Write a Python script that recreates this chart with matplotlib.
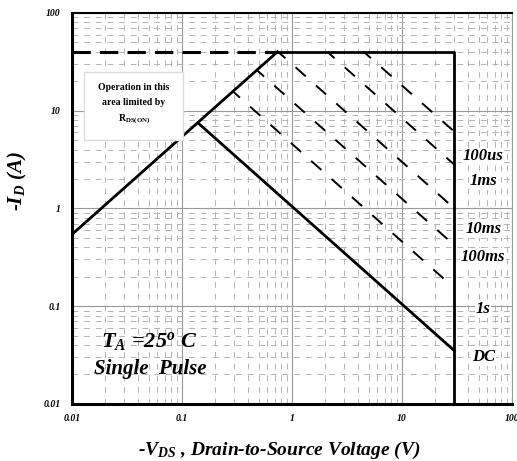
import matplotlib.pyplot as plt

# boundary of the safe operating area
rds_v = [0.01, 0.74]
rds_i = [0.54, 40]
limit_v = [0.01, 0.74]
limit_i = [40, 40]
edge_v = [0.74, 30, 30]
edge_i = [40, 40, 0.01]
dc_v = [0.14, 30]
dc_i = [7.5, 0.035]

# pulse lines (start and end points)
pulse_names = ["100us", "1ms", "10ms", "100ms", "1s"]
pulse_v0 = [4.5, 2.1, 0.75, 0.48, 0.29]
pulse_i0 = [40, 40, 40, 26, 15.8]
pulse_v1 = [30, 30, 30, 30, 30]
pulse_i1 = [6.1, 2.8, 1.0, 0.42, 0.153]

# curve labels on the right
label_names = ["100us", "1ms", "10ms", "100ms", "1s", "DC"]
label_i = [3.4, 1.9, 0.61, 0.32, 0.093, 0.030]

plt.rcParams['font.family'] = 'Liberation Serif'
plt.rcParams['mathtext.fontset'] = 'custom'
plt.rcParams['mathtext.it'] = 'Liberation Serif:bold:italic'
plt.rcParams['mathtext.rm'] = 'Liberation Serif:bold:italic'
plt.rcParams['mathtext.bf'] = 'Liberation Serif:bold'

fig = plt.figure(figsize=(5.17, 4.61), dpi=100)
ax = fig.add_axes([0.139, 0.124, 0.851, 0.848])
ax.set_xscale('log')
ax.set_yscale('log')
ax.set_xlim(0.01, 100)
ax.set_ylim(0.01, 100)

ax.grid(which='major', color='#999999', linewidth=0.8, linestyle='-')
ax.grid(which='minor', color='#b4b4b4', linewidth=0.7, linestyle=(0, (6, 6)))
ax.tick_params(which='both', length=0)

ax.plot(rds_v, rds_i, color='black', linewidth=2.0)
ax.plot(limit_v, limit_i, color='black', linewidth=2.2, linestyle=(0, (6, 3)))
ax.plot(edge_v, edge_i, color='black', linewidth=2.0, clip_on=False)
ax.plot(dc_v, dc_i, color='black', linewidth=2.0)
for k in range(len(pulse_names)):
    ax.plot([pulse_v0[k], pulse_v1[k]], [pulse_i0[k], pulse_i1[k]],
            color='black', linewidth=1.4, linestyle=(2, (7, 7)))

for name, y in zip(label_names, label_i):
    ax.text(55, y, name, ha='center', va='center', fontsize=12,
            fontweight='bold', style='italic',
            bbox=dict(facecolor='white', edgecolor='none', pad=0.5))

ax.text(0.0366, 11.5, 'Operation in this\narea limited by\n' + r'R$_{\mathbf{DS(ON)}}$',
        ha='center', va='center', fontsize=7, fontweight='bold', linespacing=1.8,
        bbox=dict(facecolor='white', edgecolor='#dddddd', pad=10))

ax.text(0.05, 0.043, r'T$_A$ =25$^o$ C', ha='center', va='center',
        fontsize=16, fontweight='bold', style='italic')
ax.text(0.052, 0.0228, 'Single  Pulse', ha='center', va='center',
        fontsize=15, fontweight='bold', style='italic')

ax.set_xticks([0.01, 0.1, 1, 10, 100])
ax.set_xticklabels(['0.01', '0.1', '1', '10', '100'])
ax.set_yticks([0.01, 0.1, 1, 10, 100])
ax.set_yticklabels(['0.01', '0.1', '1', '10', '100'])
for lab in ax.get_xticklabels() + ax.get_yticklabels():
    lab.set_fontsize(7)
    lab.set_fontweight('bold')
    lab.set_style('italic')
ax.tick_params(axis='x', pad=7)
ax.tick_params(axis='y', pad=8)

for s in ['left', 'bottom']:
    ax.spines[s].set_linewidth(2.2)
ax.spines['top'].set_linewidth(1.5)
ax.spines['right'].set_linewidth(0.8)
ax.spines['right'].set_color('#999999')

ax.set_ylabel(r'-I$_D$ (A)', fontsize=15, fontweight='bold', style='italic')
ax.yaxis.set_label_coords(-0.098, 0.57)
ax.set_xlabel(r'-V$_{DS}$ , Drain-to-Source Voltage (V)', fontsize=14,
              fontweight='bold', style='italic')
ax.xaxis.set_label_coords(0.472, -0.092)

fig.savefig('out.png', dpi=100)
